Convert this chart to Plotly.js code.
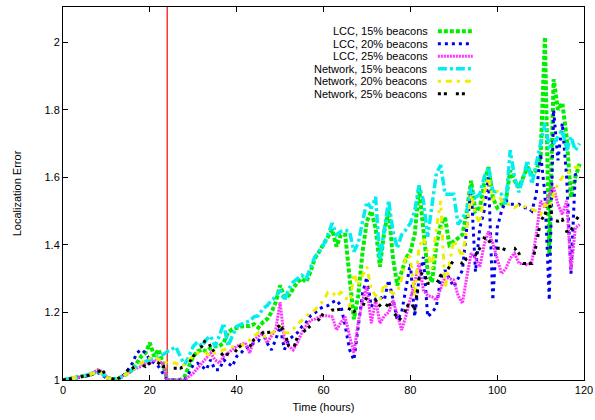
<!DOCTYPE html>
<html>
<head>
<meta charset="utf-8">
<script src="https://cdn.plot.ly/plotly-3.0.1.min.js"></script>
<style>html,body{margin:0;padding:0;background:#fff;}#chart{width:595px;height:420px;}</style>
</head>
<body>
<div id="chart"></div>
<script>
// ---- data ----
const hours = [];
for (let h = 0; h < 120; h++) hours.push(h);

const seriesNames = ["LCC, 15% beacons","LCC, 20% beacons","LCC, 25% beacons","Network, 15% beacons","Network, 20% beacons","Network, 25% beacons"];

const lcc15 = [1.0,1.002,1.004,1.006,1.008,1.012,1.015,1.02,1.028,1.02,1.008,1.003,1.002,1.006,1.012,
1.02,1.03,1.05,1.07,1.08,1.11,1.07,1.09,1.05,1.0,1.0,1.0,1.0,1.01,1.04,
1.07,1.085,1.09,1.085,1.095,1.1,1.1,1.11,1.14,1.15,1.155,1.158,1.16,1.16,1.165,
1.155,1.17,1.18,1.2,1.23,1.28,1.245,1.25,1.27,1.29,1.3,1.29,1.32,1.36,1.38,
1.40,1.42,1.445,1.395,1.43,1.43,1.30,1.18,1.25,1.38,1.47,1.50,1.45,1.335,1.44,
1.50,1.36,1.28,1.32,1.36,1.38,1.43,1.57,1.45,1.32,1.29,1.40,1.46,1.48,1.40,
1.41,1.42,1.43,1.50,1.59,1.50,1.51,1.58,1.63,1.54,1.51,1.52,1.53,1.62,1.59,
1.57,1.60,1.63,1.61,1.62,1.66,2.015,1.37,1.89,1.80,1.82,1.72,1.54,1.60,1.64];

const lcc20 = [1.0,1.002,1.003,1.005,1.007,1.01,1.013,1.018,1.022,1.015,1.006,1.002,1.002,1.006,1.015,
1.03,1.05,1.08,1.09,1.08,1.06,1.05,1.04,1.02,1.0,1.0,1.0,1.0,1.0,1.02,
1.045,1.05,1.04,1.03,1.06,1.03,1.03,1.06,1.05,1.04,1.07,1.08,1.095,1.10,1.11,
1.115,1.14,1.11,1.089,1.12,1.158,1.09,1.12,1.13,1.14,1.158,1.17,1.19,1.198,1.21,
1.217,1.22,1.23,1.236,1.22,1.16,1.09,1.059,1.16,1.257,1.305,1.217,1.24,1.246,1.236,
1.296,1.24,1.177,1.20,1.27,1.345,1.187,1.30,1.364,1.187,1.20,1.217,1.30,1.325,1.30,
1.276,1.30,1.325,1.45,1.57,1.32,1.45,1.50,1.60,1.236,1.45,1.50,1.53,1.52,1.52,
1.52,1.51,1.51,1.50,1.55,1.67,1.55,1.236,1.80,1.65,1.76,1.60,1.315,1.61,1.60];

const lcc25 = [1.0,1.003,1.005,1.006,1.009,1.012,1.016,1.022,1.03,1.025,1.01,1.004,1.002,1.006,1.012,
1.02,1.03,1.035,1.04,1.05,1.05,1.06,1.055,1.05,1.0,1.0,1.0,1.0,1.0,1.01,
1.02,1.035,1.05,1.065,1.08,1.06,1.05,1.07,1.08,1.09,1.10,1.105,1.11,1.08,1.12,
1.13,1.14,1.11,1.13,1.15,1.23,1.118,1.10,1.089,1.11,1.14,1.16,1.177,1.18,1.187,
1.19,1.19,1.187,1.148,1.17,1.187,1.13,1.08,1.17,1.236,1.276,1.168,1.236,1.168,1.19,
1.20,1.236,1.19,1.148,1.19,1.236,1.29,1.345,1.266,1.25,1.246,1.236,1.27,1.305,1.30,
1.296,1.25,1.227,1.305,1.375,1.36,1.335,1.40,1.44,1.405,1.36,1.315,1.33,1.36,1.375,
1.345,1.345,1.34,1.35,1.43,1.53,1.51,1.55,1.57,1.52,1.49,1.53,1.325,1.45,1.46];

const net15 = [1.0,1.002,1.004,1.006,1.009,1.013,1.017,1.022,1.025,1.02,1.008,1.003,1.002,1.006,1.012,
1.02,1.03,1.04,1.05,1.055,1.06,1.065,1.07,1.075,1.084,1.09,1.098,1.07,1.045,1.07,
1.10,1.113,1.10,1.12,1.13,1.10,1.13,1.168,1.10,1.13,1.158,1.165,1.17,1.175,1.187,
1.19,1.21,1.22,1.235,1.246,1.266,1.236,1.27,1.29,1.30,1.31,1.30,1.33,1.364,1.38,
1.40,1.43,1.464,1.43,1.44,1.443,1.44,1.38,1.405,1.47,1.527,1.508,1.542,1.355,1.45,
1.532,1.44,1.39,1.43,1.445,1.464,1.50,1.576,1.532,1.424,1.52,1.612,1.636,1.55,1.55,
1.55,1.46,1.48,1.50,1.57,1.54,1.55,1.60,1.63,1.56,1.556,1.55,1.52,1.68,1.60,
1.556,1.60,1.65,1.58,1.64,1.69,1.76,1.69,1.70,1.72,1.74,1.68,1.72,1.68,1.70];

const net20 = [1.0,1.002,1.004,1.006,1.008,1.011,1.014,1.02,1.025,1.02,1.008,1.003,1.002,1.006,1.012,
1.02,1.03,1.04,1.05,1.06,1.065,1.07,1.06,1.06,1.05,1.05,1.05,1.04,1.045,1.06,
1.07,1.08,1.08,1.08,1.07,1.08,1.085,1.09,1.095,1.098,1.10,1.10,1.11,1.118,1.13,
1.14,1.13,1.128,1.14,1.145,1.158,1.14,1.14,1.15,1.165,1.177,1.19,1.20,1.207,1.22,
1.235,1.26,1.26,1.246,1.26,1.25,1.217,1.315,1.28,1.31,1.335,1.266,1.25,1.236,1.286,
1.265,1.256,1.26,1.30,1.37,1.364,1.246,1.394,1.42,1.38,1.33,1.45,1.53,1.27,1.34,
1.414,1.39,1.364,1.45,1.55,1.49,1.464,1.55,1.60,1.532,1.56,1.53,1.52,1.52,1.51,
1.52,1.515,1.51,1.505,1.50,1.49,1.52,1.51,1.55,1.58,1.60,1.61,1.62,1.63,1.63];

const net25 = [1.0,1.002,1.004,1.006,1.008,1.011,1.014,1.018,1.025,1.03,1.012,1.004,1.002,1.006,1.014,
1.03,1.035,1.04,1.045,1.04,1.05,1.06,1.05,1.04,1.04,1.035,1.035,1.035,1.04,1.05,
1.07,1.084,1.10,1.124,1.098,1.08,1.07,1.08,1.075,1.07,1.09,1.103,1.10,1.098,1.12,
1.13,1.14,1.14,1.143,1.15,1.163,1.143,1.10,1.089,1.128,1.139,1.15,1.16,1.168,1.18,
1.198,1.20,1.207,1.207,1.21,1.217,1.21,1.202,1.21,1.217,1.246,1.24,1.236,1.22,1.207,
1.23,1.20,1.187,1.177,1.21,1.236,1.207,1.30,1.325,1.286,1.285,1.283,1.31,1.315,1.335,
1.355,1.35,1.345,1.36,1.364,1.37,1.39,1.42,1.414,1.394,1.39,1.39,1.385,1.39,1.39,
1.375,1.345,1.345,1.345,1.40,1.47,1.49,1.52,1.473,1.47,1.475,1.44,1.443,1.47,1.49];

const markerHour = 24;
const xTickVals = [0,20,40,60,80,100,120];
const yTickVals = [1,1.2,1.4,1.6,1.8,2];
const yTickText = ["1","1.2","1.4","1.6","1.8","2"];
const xRange = [0,120];
const yRange = [1,2.104];

// ---- styles ----
const styles = [
  {color:"#00ee00", width:4,   dash:"4px,2px"},
  {color:"#0000ee", width:3,   dash:"3px,4px"},
  {color:"#ff33ff", width:3,   dash:"2px,1px"},
  {color:"#00eeee", width:3.5, dash:"9px,3px,3px,3px"},
  {color:"#eeee00", width:3,   dash:"3px,5px,6px,5px"},
  {color:"#000000", width:3,   dash:"3px,3px,3px,9px"}
];
const values = [lcc15,lcc20,lcc25,net15,net20,net25];

const traces = [{
  x:[markerHour,markerHour], y:yRange, mode:"lines",
  line:{color:"#ff0000", width:1.2}, showlegend:false, hoverinfo:"skip"
}];
values.forEach((v,i)=>{
  traces.push({x:hours, y:v, name:seriesNames[i], mode:"lines",
    line:{color:styles[i].color, width:styles[i].width, dash:styles[i].dash},
    showlegend:false});
});

// manual gnuplot-style legend (text, then sample to its right)
const annotations = [];
const shapes = [];
const legTop = 0.935, legStep = 0.0335;
seriesNames.forEach((n,i)=>{
  const y = legTop - i*legStep;
  annotations.push({xref:"paper", yref:"paper", x:0.702, y:y, xanchor:"right", yanchor:"middle",
    text:n, showarrow:false, borderpad:0,
    font:{family:"Liberation Sans, Arial, sans-serif", size:11, color:"#000"}});
  shapes.push({type:"line", xref:"paper", yref:"paper", x0:0.7195, x1:0.7865, y0:y, y1:y,
    line:{color:styles[i].color, width:styles[i].width, dash:styles[i].dash}});
});

const axisFont = {family:"Liberation Sans, Arial, sans-serif", size:11, color:"#000"};
const layout = {
  width:595, height:420,
  margin:{l:62.5, r:10.5, t:6.5, b:40, pad:0},
  paper_bgcolor:"#fff", plot_bgcolor:"#fff",
  showlegend:false,
  font:axisFont,
  xaxis:{range:xRange, tickvals:xTickVals, ticks:"inside", ticklen:5, tickcolor:"#000",
    showline:true, linecolor:"#000", linewidth:1, mirror:"allticks", showgrid:false, zeroline:false,
    tickfont:axisFont, title:{text:"Time (hours)", font:axisFont, standoff:8}},
  yaxis:{range:yRange, tickvals:yTickVals, ticktext:yTickText, ticks:"inside", ticklen:5, tickcolor:"#000",
    showline:true, linecolor:"#000", linewidth:1, mirror:"allticks", showgrid:false, zeroline:false,
    tickfont:axisFont, title:{text:"Localization Error", font:axisFont, standoff:20}},
  annotations:annotations,
  shapes:shapes
};
Plotly.newPlot("chart", traces, layout, {staticPlot:true, displayModeBar:false});
</script>
</body>
</html>
